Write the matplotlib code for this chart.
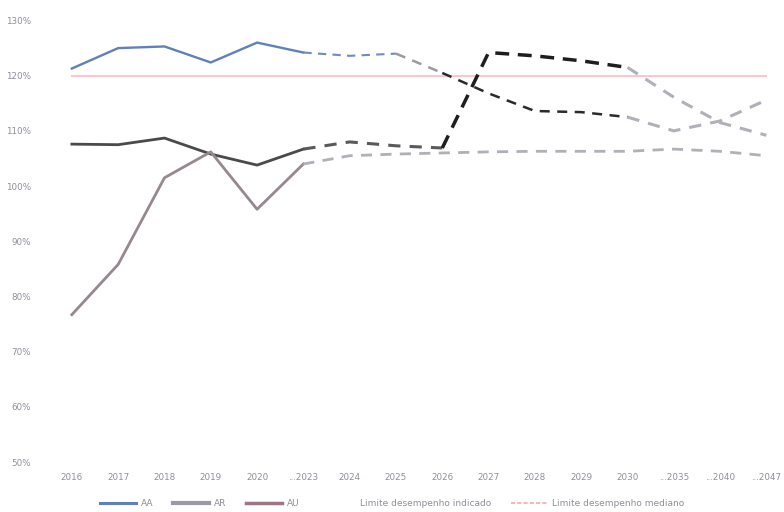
import numpy as np
import matplotlib.pyplot as plt
from matplotlib.lines import Line2D

# Categories (x axis)
years = ['2016', '2017', '2018', '2019', '2020', '...2023', '2024', '2025',
         '2026', '2027', '2028', '2029', '2030', '...2035', '...2040', '...2047']

# Series values (%)
aa = [121.3, 125.0, 125.3, 122.4, 126.0, 124.2, 123.6, 124.0,
      120.5, 116.8, 113.6, 113.4, 112.5, 110.0, 111.8, 115.6]
ar = [107.6, 107.5, 108.7, 105.8, 103.8, 106.7, 108.0, 107.3,
      106.9, 124.2, 123.6, 122.7, 121.5, 116.1, 111.5, 109.2]
au = [76.7, 85.8, 101.5, 106.2, 95.8, 104.0, 105.5, 105.8,
      106.0, 106.2, 106.3, 106.3, 106.3, 106.7, 106.3, 105.5]
limite_mediano = [120.0] * len(years)

y_ticks = [50, 60, 70, 80, 90, 100, 110, 120, 130]

x = np.arange(len(years))

fig = plt.figure(figsize=(7.84, 5.12), dpi=100)
ax = fig.add_axes([45 / 784, 50 / 512, 739 / 784, 447 / 512])

# reference line
ax.plot(x, limite_mediano, color='#f5c9cf', lw=1.5, zorder=1)


def seg(vals, i0, i1, color, ls='-', lw=1.8):
    ax.plot(x[i0:i1 + 1], vals[i0:i1 + 1], color=color, ls=ls, lw=lw,
            dash_capstyle='butt', zorder=3)


gray_proj = '#b0b0b8'

# AA: history + projection
seg(aa, 0, 5, '#5f80b8', lw=1.7)
seg(aa, 5, 7, '#6f8cc0', ls=(0, (4, 3)), lw=1.5)
seg(aa, 7, 8, '#9a9aa2', ls=(0, (4, 3)), lw=1.8)
seg(aa, 8, 12, '#2a2a2a', ls=(0, (4, 3)), lw=1.8)
seg(aa, 12, 15, gray_proj, ls=(0, (4, 3)), lw=2.2)

# AR: history + projection
seg(ar, 0, 5, '#4a4a4a', lw=2.0)
seg(ar, 5, 8, '#5a5a5a', ls=(0, (4, 3)), lw=2.2)
seg(ar, 8, 12, '#1e1e1e', ls=(0, (4, 2.5)), lw=2.5)
seg(ar, 12, 15, gray_proj, ls=(0, (4, 3)), lw=2.2)

# AU: history + projection
seg(au, 0, 5, '#958891', lw=2.0)
seg(au, 5, 15, gray_proj, ls=(0, (4, 3)), lw=2.0)

ax.set_xticks(x)
ax.set_xticklabels(years)
ax.set_yticks(y_ticks)
ax.set_yticklabels([f'{v}%' for v in y_ticks])
ax.set_xlim(-0.58, 15.38)
ax.set_ylim(50, 131)
ax.tick_params(axis='both', length=0, labelsize=6.3, colors='#8e8e99')
ax.tick_params(axis='y', pad=10)
ax.tick_params(axis='x', pad=8)
for s in ax.spines.values():
    s.set_visible(False)

handles = [
    Line2D([], [], color='#5f80b8', lw=2.2),
    Line2D([], [], color='#9b98a8', lw=3),
    Line2D([], [], color='#9e7682', lw=2.5),
    Line2D([], [], color='#ffffff', lw=2),
    Line2D([], [], color='#f2b9c2', lw=1.5, ls=(0, (2, 1))),
]
labels = ['AA', 'AR', 'AU', 'Limite desempenho indicado', 'Limite desempenho mediano']
fig.legend(handles, labels, loc='center', bbox_to_anchor=(0.5, 0.016),
           ncol=5, frameon=False, fontsize=6.5, labelcolor='#8e8e99',
           handlelength=4, columnspacing=2.2, handletextpad=0.5,
           borderpad=0.1)

fig.savefig('out.png', dpi=100, facecolor='white')
